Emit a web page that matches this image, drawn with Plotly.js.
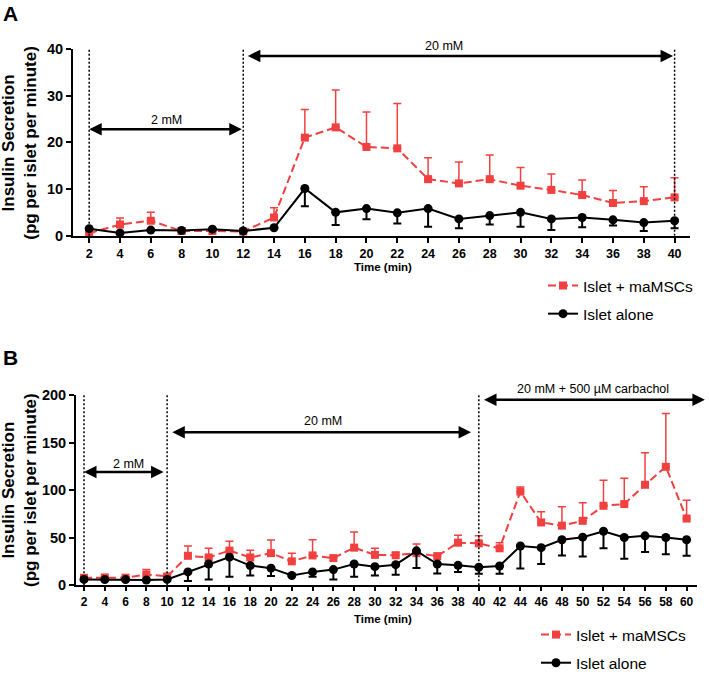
<!DOCTYPE html>
<html>
<head>
<meta charset="utf-8">
<script src="https://cdn.plot.ly/plotly-3.0.1.min.js"></script>
<style>html,body{margin:0;padding:0;background:#fff;}#chart{width:709px;height:680px;}</style>
</head>
<body>
<div id="chart"></div>
<script>
// ---------- Data ----------
const timeA = [2,4,6,8,10,12,14,16,18,20,22,24,26,28,30,32,34,36,38,40];
const maA    = [0.5,2.4,3.2,1.0,1.0,0.9,3.9,21.0,23.2,19.0,18.7,12.1,11.2,12.1,10.7,9.8,8.7,7.0,7.4,8.2];
const maAErr = [0.3,1.4,1.8,0.3,0.3,0.3,2.1,6.0,8.0,7.5,9.6,4.6,4.6,5.2,3.9,3.4,3.2,2.7,3.1,4.2];
const aloneA    = [1.5,0.6,1.2,1.1,1.4,1.0,1.7,10.1,5.0,5.8,4.9,5.8,3.6,4.3,5.0,3.6,3.9,3.4,2.8,3.2];
const aloneAErr = [0.2,0.2,0.2,0.2,0.2,0.2,0.2,3.8,2.7,2.3,2.3,3.9,2.0,1.9,3.1,2.4,2.1,1.2,1.8,1.6];

const timeB = [2,4,6,8,10,12,14,16,18,20,22,24,26,28,30,32,34,36,38,40,42,44,46,48,50,52,54,56,58,60];
const maB    = [7.9,8.3,8.0,11.4,9.3,31.0,29.3,36.5,29.3,33.8,25.2,31.4,28.6,39.6,32.0,31.6,33.8,30.7,44.8,44.1,38.9,98.5,66.1,62.7,67.8,83.6,85.4,105.7,124.6,70.2];
const maBErr = [1,1,1,5.1,1.5,10.3,9.7,9.7,7.6,13.7,8.6,16.5,1.5,16.5,6.9,3.0,9.6,1.5,7.9,7.9,5.9,4.8,11.3,19.9,18.9,26.9,27.1,33.7,56.1,19.3];
const aloneB    = [6.2,6.0,6.0,5.5,6.2,14.1,22.4,29.6,20.7,18.0,10.3,14.1,16.5,22.4,19.6,21.7,36.2,22.4,21.0,19.0,20.3,41.3,39.6,47.9,50.6,56.8,50.3,52.0,50.3,47.9];
const aloneBErr = [0.5,0.5,0.5,0.5,0.5,9.6,16.2,20.6,10.4,8.3,0.5,5.1,10.3,13.4,9.3,10.7,17.9,10.0,6.9,6.9,8.2,23.7,17.2,16.5,20.2,17.9,22.4,16.9,17.6,16.9];

const seriesNames = ['Islet + maMSCs', 'Islet alone'];
const phaseLinesA = [2, 12, 40];
const phaseLinesB = [2, 10, 40];
const yTicksA = [0,10,20,30,40];
const yTicksB = [0,50,100,150,200];
const yTitle = 'Insulin Secretion<br>(pg per islet per minute)';
const xTitle = 'Time (min)';

// ---------- Styles ----------
const RED = '#f0403f';
const FONT = 'Liberation Sans, Arial, Helvetica, sans-serif';
const W = 709, H = 680;
const px = v => v / W;
const py = v => 1 - v / H;
const zeros = n => new Array(n).fill(0);

function redTrace(x, y, err, xa, ya, leg) {
  return {
    x: x, y: y, xaxis: xa, yaxis: ya, name: seriesNames[0], legend: leg, legendgroup: leg + 'r',
    type: 'scatter', mode: 'lines+markers', cliponaxis: false,
    line: {color: RED, width: 2, dash: '8px,4px'},
    marker: {symbol: 'square', size: 8, color: RED},
    error_y: {type: 'data', symmetric: false, array: err, arrayminus: zeros(err.length),
              color: RED, thickness: 1.5, width: 4}
  };
}
function blackTrace(x, y, err, xa, ya, leg) {
  return {
    x: x, y: y, xaxis: xa, yaxis: ya, name: seriesNames[1], legend: leg, legendgroup: leg + 'b',
    type: 'scatter', mode: 'lines+markers', cliponaxis: false,
    line: {color: '#000', width: 2},
    marker: {symbol: 'circle', size: 9, color: '#000'},
    error_y: {type: 'data', symmetric: false, array: zeros(err.length), arrayminus: err,
              color: '#000', thickness: 2, width: 4}
  };
}

const data = [
  redTrace(timeA, maA, maAErr, 'x', 'y', 'legend'),
  blackTrace(timeA, aloneA, aloneAErr, 'x', 'y', 'legend'),
  redTrace(timeB, maB, maBErr, 'x2', 'y2', 'legend2'),
  blackTrace(timeB, aloneB, aloneBErr, 'x2', 'y2', 'legend2')
];

function axis(domain, range, anchor, tv, fsize, tlen) {
  return {domain: domain, range: range, anchor: anchor, tickvals: tv,
    showgrid: false, zeroline: false, showline: true, linecolor: '#000', linewidth: 2,
    ticks: 'outside', ticklen: tlen, tickwidth: 2, tickcolor: '#000',
    tickfont: {family: FONT, size: fsize, color: '#000', weight: 'bold'}, automargin: false};
}

const shapes = [];
phaseLinesA.forEach(v => shapes.push({type: 'line', xref: 'x', yref: 'y', x0: v, x1: v, y0: 0, y1: 40,
  line: {color: '#000', width: 1.5, dash: '2px,2px'}}));
phaseLinesB.forEach(v => shapes.push({type: 'line', xref: 'x2', yref: 'y2', x0: v, x1: v, y0: 0, y1: 200,
  line: {color: '#000', width: 1.5, dash: '2px,2px'}}));

function arrow(xr, yr, x0, x1, y) {
  return {xref: xr, yref: yr, axref: xr, ayref: yr, x: x0, y: y, ax: x1, ay: y, text: '',
    showarrow: true, arrowhead: 2, startarrowhead: 2, arrowside: 'end+start',
    arrowsize: 1, startarrowsize: 1, arrowwidth: 2.5, arrowcolor: '#000', standoff: 0, startstandoff: 0};
}
function label(text, x, y, size, bold) {
  return {xref: 'paper', yref: 'paper', x: px(x), y: py(y), text: text, showarrow: false,
    xanchor: 'center', yanchor: 'middle',
    font: {family: FONT, size: size, color: '#000', weight: bold ? 'bold' : 'normal'}};
}

const annotations = [
  arrow('x', 'y', 2, 12, 22.8),
  arrow('x', 'y', 12.3, 40, 38.5),
  arrow('x2', 'y2', 2, 9.8, 119),
  arrow('x2', 'y2', 10.5, 39.4, 161),
  arrow('x2', 'y2', 40.5, 61.9, 195),
  label('2 mM', 166, 123, 12.5, false),
  label('20 mM', 444, 47, 12.5, false),
  label('2 mM', 128, 474, 12.5, false),
  label('20 mM', 323, 431, 12.5, false),
  label('20 mM + 500 µM carbachol', 593, 398, 12.5, false),
  Object.assign(label(yTitle, 20, 146, 17, true), {textangle: -90}),
  Object.assign(label(yTitle, 20, 501, 17, true), {textangle: -90}),
  label(xTitle, 383, 273, 11.5, true),
  label(xTitle, 383, 633, 11.5, true),
  Object.assign(label('A', 1, 14, 21, true), {xanchor: 'left'}),
  Object.assign(label('B', 1, 366, 21, true), {xanchor: 'left'})
];

const legendStyle = (x, y) => ({x: px(x), y: py(y), xanchor: 'left', yanchor: 'top',
  bgcolor: 'rgba(0,0,0,0)', borderwidth: 0, tracegroupgap: 5,
  font: {family: FONT, size: 15.5, color: '#000'}});

const layout = {
  width: W, height: H, margin: {l: 0, r: 0, t: 0, b: 0, pad: 0},
  paper_bgcolor: '#fff', plot_bgcolor: '#fff', showlegend: true,
  font: {family: FONT, color: '#000'},
  xaxis: axis([px(73), px(690)], [0.95, 41], 'y', timeA, 12.5, 5),
  yaxis: axis([py(241), py(50)], [0, 40], 'x', yTicksA, 14.5, 5),
  xaxis2: axis([px(76), px(697)], [1.23, 61], 'y2', timeB, 12, 4),
  yaxis2: axis([py(598.5), py(404)], [0, 200], 'x2', yTicksB, 14.5, 5),
  legend: legendStyle(543, 275),
  legend2: legendStyle(536, 632),
  shapes: shapes,
  annotations: annotations
};

Plotly.newPlot('chart', data, layout, {displayModeBar: false, staticPlot: true});
</script>
</body>
</html>
